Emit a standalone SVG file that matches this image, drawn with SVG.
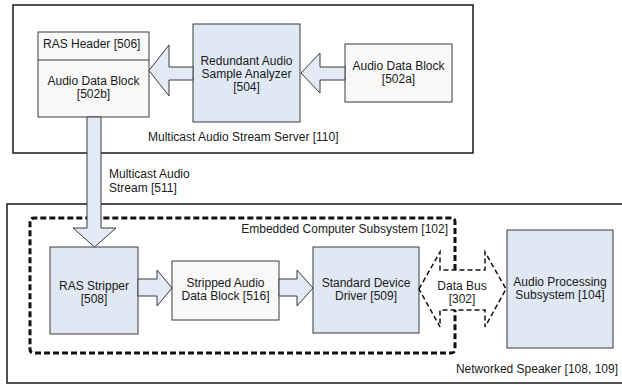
<svg xmlns="http://www.w3.org/2000/svg" width="622" height="385" viewBox="0 0 622 385">
<style>
text{font-family:"Liberation Sans",Arial,sans-serif;font-size:12px;fill:#1a1a1a}
.c{text-anchor:middle}
.frame{fill:#fff;stroke:#1a1a1a;stroke-width:1.5}
.blue{fill:#e0e8f4;stroke:#3a3a3a;stroke-width:1}
.grey{fill:#f8f8f8;stroke:#3a3a3a;stroke-width:1}
.arr{fill:#e3eaf5;stroke:#3a3a3a;stroke-width:1;stroke-linejoin:miter}
.dash{fill:none;stroke:#111;stroke-width:3;stroke-dasharray:6 3}
.bus{fill:#fff;stroke:#111;stroke-width:1.5;stroke-dasharray:5 3}
</style>
<rect width="622" height="385" fill="#fff"/>
<g id="server">
<rect class="frame" x="13" y="5" width="460" height="148"/>
<text x="148" y="141">Multicast Audio Stream Server [110]</text>
</g>
<g id="speaker">
<rect class="frame" x="7" y="204" width="622" height="179"/>
<text x="618" y="373" text-anchor="end">Networked Speaker [108, 109]</text>
</g>
<g id="embedded">
<path class="dash" d="M455,270 V222 Q455,218 451,218 H34 Q30,218 30,222 V349 Q30,353 34,353 H451 Q455,353 455,349 V310"/>
<text x="448" y="233" text-anchor="end">Embedded Computer Subsystem [102]</text>
</g>
<g id="n502b">
<rect class="grey" x="38" y="32" width="111" height="85"/>
<line x1="38" y1="60" x2="149" y2="60" stroke="#3a3a3a" stroke-width="1"/>
<text x="43" y="48">RAS Header [506]</text>
<text class="c" x="93.5" y="85">Audio Data Block</text>
<text class="c" x="93.5" y="98">[502b]</text>
</g>
<g id="n504">
<rect class="blue" x="193" y="24" width="107" height="98"/>
<text class="c" x="246.5" y="65">Redundant Audio</text>
<text class="c" x="246.5" y="78">Sample Analyzer</text>
<text class="c" x="246.5" y="91">[504]</text>
</g>
<g id="n502a">
<rect class="grey" x="345" y="44" width="107" height="58"/>
<text class="c" x="398.5" y="70">Audio Data Block</text>
<text class="c" x="398.5" y="83">[502a]</text>
</g>
<g id="n508">
<rect class="blue" x="50" y="247" width="88" height="87"/>
<text class="c" x="94" y="290">RAS Stripper</text>
<text class="c" x="94" y="303">[508]</text>
</g>
<g id="n516">
<rect class="grey" x="172" y="261" width="107" height="59"/>
<text class="c" x="225.5" y="287">Stripped Audio</text>
<text class="c" x="225.5" y="300">Data Block [516]</text>
</g>
<g id="n509">
<rect class="blue" x="313" y="247" width="106" height="86"/>
<text class="c" x="366" y="287">Standard Device</text>
<text class="c" x="366" y="300">Driver [509]</text>
</g>
<g id="n104">
<rect class="blue" x="507" y="230" width="106" height="118"/>
<text class="c" x="560" y="286">Audio Processing</text>
<text class="c" x="560" y="299">Subsystem [104]</text>
</g>
<g id="connectors">
<polygon class="arr" points="149,70.5 169,45 169,67 193,67 193,80 169,80 169,96"/>
<polygon class="arr" points="301,73 320,53 320,67 345,67 345,80 320,80 320,93"/>
<polygon class="arr" points="87,117 101,117 101,228 116,228 94.5,247 73,228 87,228"/>
<polygon class="arr" points="138,279 157,279 157,270 172,288 157,306 157,296 138,296"/>
<polygon class="arr" points="279,279 297,279 297,270 313,288 297,306 297,296 279,296"/>
<polygon class="bus" points="419,289 440,252 440,270 485,270 485,252 506,289 485,327 485,310 440,310 440,327"/>
<text class="c" x="462" y="290">Data Bus</text>
<text class="c" x="462" y="303">[302]</text>
<text x="109" y="178">Multicast Audio</text>
<text x="109" y="192">Stream [511]</text>
</g>
</svg>
